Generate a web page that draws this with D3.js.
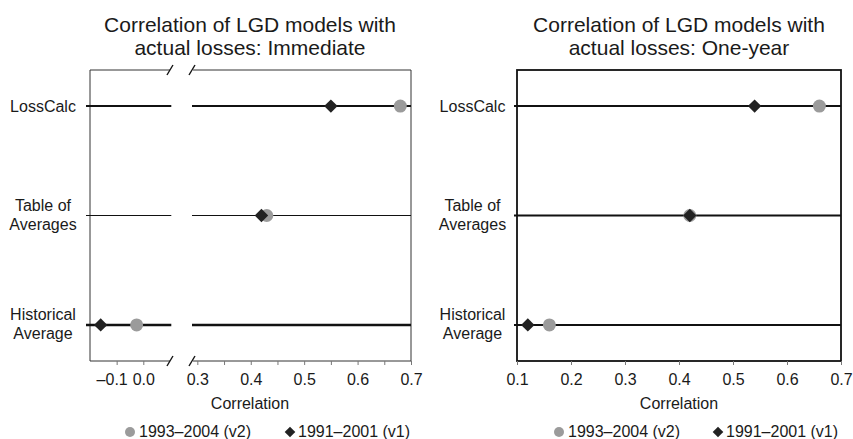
<!DOCTYPE html>
<html><head><meta charset="utf-8">
<script src="https://cdn.jsdelivr.net/npm/d3@7"></script>
<style>body{margin:0;background:#fff}svg{display:block}text{font-family:"Liberation Sans",Arial,sans-serif;fill:#1a1a1a}</style>
</head><body>
<svg id="c" width="853" height="439"></svg>
<script>
const models = ["LossCalc", "Table of Averages", "Historical Average"];
const modelLabels = [["LossCalc"], ["Table of", "Averages"], ["Historical", "Average"]];
const seriesNames = ["1993\u20132004 (v2)", "1991\u20132001 (v1)"];
const immediateV2 = [0.68, 0.43, -0.025];
const immediateV1 = [0.55, 0.42, -0.16];
const oneYearV2 = [0.66, 0.42, 0.16];
const oneYearV1 = [0.54, 0.42, 0.12];
const titlesImmediate = ["Correlation of LGD models with", "actual losses: Immediate"];
const titlesOneYear = ["Correlation of LGD models with", "actual losses: One-year"];
const ticksLow = [-0.1, 0.0];
const ticksHigh = [0.3, 0.35, 0.4, 0.45, 0.5, 0.55, 0.6, 0.65, 0.7];
const ticksRight = [0.1, 0.2, 0.3, 0.4, 0.5, 0.6, 0.7];

(function () {
const svg = d3.select("#c");
const grey = "#9b9b9b", dark = "#222";
const yTop = 70, yBot = 361;
const y = d3.scalePoint().domain(models).range([yTop, yBot]).padding(0.33);
const fmt = v => (v < 0 ? "\u2013" : "") + Math.abs(v).toFixed(1);

function titles(lines, cx) {
  svg.append("g").selectAll("text").data(lines).join("text")
    .attr("x", cx).attr("y", (d, i) => 32 + i * 23)
    .attr("text-anchor", "middle").attr("font-size", 21).text(d => d);
}
function yLabels(cx) {
  const g = svg.append("g");
  models.forEach((m, i) => {
    const lines = modelLabels[i];
    const t = g.append("text").attr("text-anchor", "middle").attr("font-size", 16);
    lines.forEach((l, j) => {
      const base = lines.length === 1 ? y(m) + 5.5 : y(m) - 5 + j * 19;
      t.append("tspan").attr("x", cx).attr("y", base).text(l);
    });
  });
}
function diamond(g, x, yy, s) {
  g.append("path").attr("d", d3.symbol(d3.symbolSquare, s * s)())
    .attr("transform", `translate(${x},${yy}) rotate(45)`).attr("fill", dark);
}
function legend(cx1, cx2) {
  const g = svg.append("g");
  g.append("circle").attr("cx", cx1).attr("cy", 432).attr("r", 5).attr("fill", grey);
  g.append("text").attr("x", cx1 + 9).attr("y", 437).attr("font-size", 16).text(seriesNames[0]);
  diamond(g, cx2, 432, 7.5);
  g.append("text").attr("x", cx2 + 8).attr("y", 437).attr("font-size", 16).text(seriesNames[1]);
}
function styleAxis(g) {
  g.select(".domain").remove();
  g.selectAll(".tick line").attr("stroke", "#777");
  g.selectAll(".tick text").attr("font-size", 16).attr("font-family", "Liberation Sans, Arial, sans-serif").attr("fill", "#1a1a1a");
}

// ---------- Left chart (broken axis) ----------
{
  const xa = d3.scaleLinear().domain([-0.2, 0.105]).range([90, 171.3]);
  const xb = d3.scaleLinear().domain([0.29, 0.7]).range([192, 411]);
  const xv = v => v < 0.2 ? xa(v) : xb(v);
  titles(titlesImmediate, 250);
  yLabels(43);
  const g = svg.append("g");
  g.append("line").attr("x1", xa(-0.2)).attr("x2", xa(-0.2)).attr("y1", yTop).attr("y2", yBot).attr("stroke", "#333");
  g.append("line").attr("x1", xb(0.7)).attr("x2", xb(0.7)).attr("y1", yTop).attr("y2", yBot).attr("stroke", "#333");
  [yTop, yBot].forEach(yy => {
    g.append("line").attr("x1", xa(-0.2)).attr("x2", xa(0.1)).attr("y1", yy).attr("y2", yy).attr("stroke", "#333");
    g.append("line").attr("x1", xb(0.292)).attr("x2", xb(0.7)).attr("y1", yy).attr("y2", yy).attr("stroke", "#333");
    [xa(0.1), xb(0.29)].forEach(bx => {
      g.append("line").attr("x1", bx - 3).attr("x2", bx + 3).attr("y1", yy + 5).attr("y2", yy - 5)
        .attr("stroke", "#111").attr("stroke-width", 1.4);
    });
  });
  const widths = [2, 1, 2.5];
  models.forEach((m, i) => {
    g.append("line").attr("x1", xa(-0.2) - 4).attr("x2", xa(0.105)).attr("y1", y(m)).attr("y2", y(m))
      .attr("stroke", "#111").attr("stroke-width", widths[i]);
    g.append("line").attr("x1", xb(0.29)).attr("x2", xb(0.7)).attr("y1", y(m)).attr("y2", y(m))
      .attr("stroke", "#111").attr("stroke-width", widths[i]);
  });
  const ax1 = svg.append("g").attr("transform", `translate(0,${yBot})`)
    .call(d3.axisBottom(xa).tickValues(ticksLow).tickFormat(fmt).tickSize(4).tickPadding(9));
  styleAxis(ax1);
  ax1.selectAll(".tick text").attr("dx", d => d < 0 ? -5 : 0);
  const ax2 = svg.append("g").attr("transform", `translate(0,${yBot})`)
    .call(d3.axisBottom(xb).tickValues(ticksHigh)
      .tickFormat(d => Math.abs(d * 10 - Math.round(d * 10)) < 1e-6 ? d.toFixed(1) : "").tickSize(4).tickPadding(9));
  styleAxis(ax2);
  svg.append("text").attr("x", 250).attr("y", 409).attr("text-anchor", "middle").attr("font-size", 16).text("Correlation");
  models.forEach((m, i) => {
    g.append("circle").attr("cx", xv(immediateV2[i])).attr("cy", y(m)).attr("r", 6.5).attr("fill", grey);
  });
  models.forEach((m, i) => diamond(g, xv(immediateV1[i]), y(m), 9.5));
  legend(130, 290);
}

// ---------- Right chart ----------
{
  const x = d3.scaleLinear().domain([0.1, 0.7]).range([517, 841]);
  titles(titlesOneYear, 679);
  yLabels(472.5);
  const g = svg.append("g");
  models.forEach((m) => {
    g.append("line").attr("x1", x(0.1) - 3).attr("x2", x(0.7)).attr("y1", y(m)).attr("y2", y(m))
      .attr("stroke", "#111").attr("stroke-width", 2);
  });
  const ax = svg.append("g").attr("transform", `translate(0,${yBot})`)
    .call(d3.axisBottom(x).tickValues(ticksRight).tickFormat(d => d.toFixed(1)).tickSize(4).tickPadding(9));
  styleAxis(ax);
  g.append("rect").attr("x", x(0.1)).attr("y", yTop).attr("width", x(0.7) - x(0.1)).attr("height", yBot - yTop)
    .attr("fill", "none").attr("stroke", "#111").attr("stroke-width", 1.8);
  svg.append("text").attr("x", 679).attr("y", 409).attr("text-anchor", "middle").attr("font-size", 16).text("Correlation");
  models.forEach((m, i) => {
    g.append("circle").attr("cx", x(oneYearV2[i])).attr("cy", y(m)).attr("r", 6.5).attr("fill", grey);
  });
  models.forEach((m, i) => diamond(g, x(oneYearV1[i]), y(m), 9.5));
  legend(559, 718);
}
})();
</script>
</body></html>
